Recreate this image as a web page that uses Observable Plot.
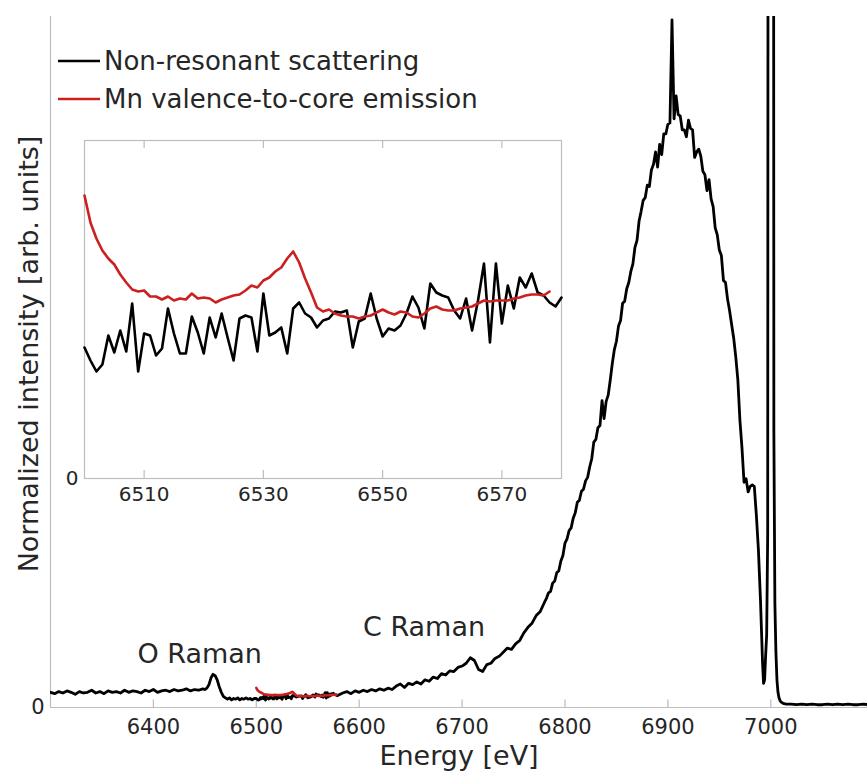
<!DOCTYPE html>
<html><head><meta charset="utf-8">
<script src="https://cdn.jsdelivr.net/npm/d3@7"></script>
<script src="https://cdn.jsdelivr.net/npm/@observablehq/plot@0.6"></script>
<style>
body{margin:0;background:#fff}
#chart{position:relative;width:867px;height:771px;overflow:hidden;background:#fff}
#chart svg{position:absolute}
</style>
</head><body><div id="chart"></div>
<script>
// ---- data (intensity in thousandths of the normalized scale) ----
const seriesNames = ["Non-resonant scattering", "Mn valence-to-core emission"];
const seriesColors = ["#000000", "#cc2020"];

// Non-resonant scattering, read in segments {start energy, step, values}
const blackA_start = 6300, blackA_step = 4;
const blackA = [22,20,23,21,24,22,19,23,21,22, 25,21,23,20,24,22,23,21,25,22,
  24,23,21,25,23,26,22,24,25,23, 26,24,25,27,24,26,25,27];
const blackB_start = 6450, blackB_step = 2;
const blackB = [26,28,33,43,48,46,40,30,22,16, 14,12,14,11,13,12,14,11,13,12, 14,12,13,11,13];
const blackInset_start = 6500, blackInset_step = 1;
const blackInset = [13.1,11.8,10.7,11.4,14.3,12.6,14.8,12.7,17.5,10.7,
  14.5,14.3,12.3,13.0,17.0,14.5,12.5,12.5,16.2,14.6,
  12.5,16.1,14.1,16.5,14.1,11.8,16.0,16.3,16.1,12.7,
  18.5,14.3,14.6,15.1,12.5,17.0,17.6,16.5,16.1,15.1,
  15.8,16.0,16.7,16.6,16.8,13.1,15.7,16.0,18.5,16.0,
  14.2,15.0,14.8,15.3,16.5,18.2,17.1,15.0,19.5,18.6,
  18.3,18.1,16.8,16.0,18.0,14.8,17.8,21.5,13.6,21.5,
  15.5,19.3,17.0,20.1,19.1,20.5,18.6,18.3,17.6,17.2,
  18.1];
const blackC_start = 6584, blackC_step = 4;
const blackC = [21,23,20,24,22,25,23,26,24,27, 25,28,26,31,34,29,35,33,37,34,
  40,38,44,42,49,47,53,52,58,60, 64,72,68,55,52,62,64,71,74,80,
  86,84,92,97,108,116,122,133,139,152];
const blackD_start = 6782, blackD_step = 2;
const blackD = [158,166,168,180,183,195,198,212,220,238,
  244,256,260,274,282,297,300,313,316,328,
  333,348,360,384,388,405,408,444,418,443,
  452,474,498,518,530,552,560,585,588,606,
  615,631,642,666,676,704,718,734,738,756,
  754,778,786,804,782,815,800,830,830,844,
  846,995,852,885,858,856,836,836,826,850,
  838,836,796,804,808,798,776,771,748,764,
  736,725,694,684,662,654,618,615,591,574,
  554,534,507,474,416,376,326,331,312,320,
  322,320,278,228,155];
const blackE_start = 6991, blackE_step = 1;
const blackE = [110,65,35,40,75,105,250,3000,7000,9000,7000,3500,400,150,80,40,22,14,10,8,7,6];
const blackF_start = 7015, blackF_step = 5;
const blackF = [5,5,4,5,4,5,4,4,5,4,5,4,5,4,4,5,4];

// Mn valence-to-core emission
const red_start = 6500, red_step = 1;
const redValues = [28.3,25.6,24.0,22.8,22.0,21.4,20.4,19.6,18.9,18.7,
  18.8,18.2,18.2,17.9,18.2,17.8,18.0,17.9,18.5,18.0,
  18.1,18.0,17.6,17.9,18.1,18.3,18.4,18.8,19.3,19.1,
  19.8,20.1,20.7,21.1,22.0,22.7,21.6,20.0,18.6,17.1,
  16.7,16.9,16.5,16.3,16.2,16.2,16.0,16.2,16.3,16.6,
  16.9,16.6,16.4,16.7,16.6,16.2,16.1,16.5,17.0,17.2,
  16.9,16.8,16.8,17.0,17.1,17.2,17.5,17.8,17.7,17.8,
  17.8,17.8,18.0,18.1,18.3,18.4,18.4,18.3,18.7];

const mainTicks = [6400, 6500, 6600, 6700, 6800, 6900, 7000];
const insetTicks = [6510, 6530, 6550, 6570];
const annoLabels = ["O Raman", "C Raman"];
const annoE = [6445, 6663];
const annoV = [64, 104];

// ---- build tables ----
const seg = (start, step, vals) => vals.map((v, i) => ({e: start + i * step, v}));
const black = [
  ...seg(blackA_start, blackA_step, blackA),
  ...seg(blackB_start, blackB_step, blackB),
  ...seg(blackInset_start, blackInset_step, blackInset),
  ...seg(blackC_start, blackC_step, blackC),
  ...seg(blackD_start, blackD_step, blackD),
  ...seg(blackE_start, blackE_step, blackE),
  ...seg(blackF_start, blackF_step, blackF)
];
const blackZoom = seg(blackInset_start, blackInset_step, blackInset);
const red = seg(red_start, red_step, redValues);
const annos = annoLabels.map((t, i) => ({t, e: annoE[i], v: annoV[i]}));

const FONT = "'DejaVu Sans', sans-serif";
const TXT = "#262626";
const AX = "#bdbdbd";

const main = Plot.plot({
  width: 867, height: 771,
  marginLeft: 50, marginRight: 0, marginTop: 16, marginBottom: 64,
  x: {domain: [6300, 7094], label: null},
  y: {domain: [0, 1000], label: null},
  style: {fontFamily: FONT, fontSize: "21px", color: TXT, background: "transparent", overflow: "visible"},
  marks: [
    Plot.ruleY([0], {stroke: AX, strokeWidth: 1.2}),
    Plot.ruleX([6300], {stroke: AX, strokeWidth: 1.2}),
    Plot.ruleX(mainTicks, {y1: 0, y2: 11, stroke: AX, strokeWidth: 1.2}),
    Plot.axisX({ticks: mainTicks, tickSize: 0, tickPadding: 12, tickFormat: "d", label: null, fontSize: 21, fill: TXT}),
    Plot.axisY({ticks: [0], tickSize: 0, tickPadding: 6, label: null, fontSize: 21, fill: TXT}),
    Plot.line(black, {x: "e", y: "v", stroke: seriesColors[0], strokeWidth: 2.8, clip: true}),
    Plot.line(red, {x: "e", y: "v", stroke: seriesColors[1], strokeWidth: 2.6, clip: true}),
    Plot.text(annos, {x: "e", y: "v", text: "t", fontSize: 27, textAnchor: "middle", lineAnchor: "bottom", fill: TXT}),
    Plot.text(["Energy [eV]"], {frameAnchor: "bottom", dy: 57, lineAnchor: "bottom", fontSize: 27, fill: TXT}),
    Plot.text(["Normalized intensity [arb. units]"], {frameAnchor: "left", rotate: -90, dx: -21, dy: -8, textAnchor: "middle", lineAnchor: "middle", fontSize: 27, fill: TXT})
  ]
});
main.style.left = "0px"; main.style.top = "0px";

// legend (inside plot, upper left)
const g = d3.select(main).append("g").attr("font-family", FONT).attr("font-size", 26)
  .attr("fill", TXT).attr("text-anchor", "start");
const legY = [61, 99];
seriesNames.forEach((name, i) => {
  g.append("line").attr("x1", 58).attr("x2", 100).attr("y1", legY[i]).attr("y2", legY[i])
    .attr("stroke", seriesColors[i]).attr("stroke-width", 2.4);
  g.append("text").attr("x", 104).attr("y", legY[i]).attr("dy", "0.35em")
    .attr("text-anchor", "start").text(name);
});

const inset = Plot.plot({
  width: 513, height: 376,
  marginLeft: 30, marginRight: 6, marginTop: 4, marginBottom: 34,
  x: {domain: [6500, 6580], label: null},
  y: {domain: [0, 33.8], label: null},
  style: {fontFamily: FONT, fontSize: "20px", color: TXT, background: "transparent", overflow: "visible"},
  marks: [
    Plot.frame({fill: "white", stroke: AX, strokeWidth: 1.2}),
    Plot.ruleX(insetTicks, {y1: 0, y2: 0.8, stroke: AX, strokeWidth: 1.2}),
    Plot.ruleX(insetTicks, {y1: 33.0, y2: 33.8, stroke: AX, strokeWidth: 1.2}),
    Plot.axisX({ticks: insetTicks, tickSize: 0, tickPadding: 8, tickFormat: "d", label: null, fontSize: 20, fill: TXT}),
    Plot.axisY({ticks: [0], tickSize: 0, tickPadding: 6, label: null, fontSize: 20, fill: TXT}),
    Plot.line(blackZoom, {x: "e", y: "v", stroke: seriesColors[0], strokeWidth: 2.6}),
    Plot.line(red, {x: "e", y: "v", stroke: seriesColors[1], strokeWidth: 2.6})
  ]
});
inset.style.left = "54px"; inset.style.top = "136px";

const chart = document.getElementById("chart");
chart.appendChild(main);
chart.appendChild(inset);
</script></body></html>
